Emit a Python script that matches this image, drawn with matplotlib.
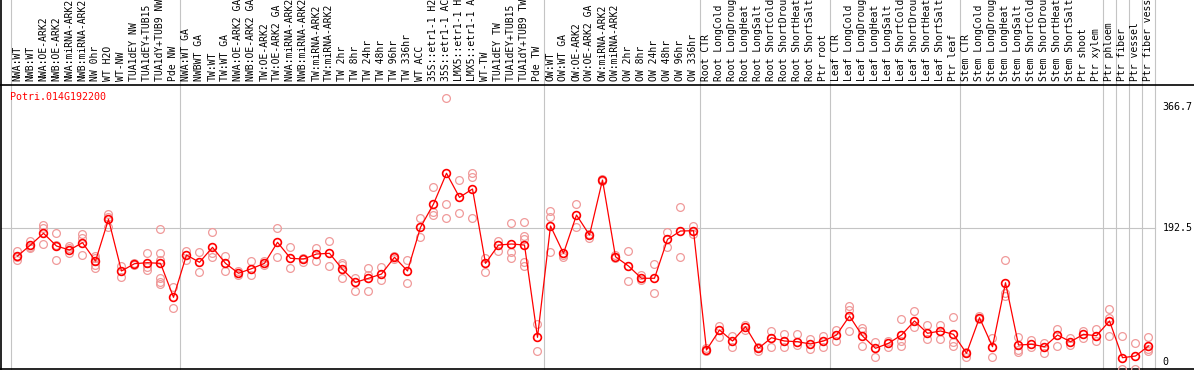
import matplotlib
matplotlib.use("Agg")
import matplotlib.pyplot as plt

gene = "Potri.014G192200"

labels = [
    "NWA:WT", "NWB:WT", "NWA:OE-ARK2", "NWB:OE-ARK2", "NWA:miRNA-ARK2", "NWB:miRNA-ARK2",
    "NW 0hr", "WT H2O", "WT-NW", "TUA1dEY NW", "TUA1dEY+TUB15 NW", "TUA1dY+TUB9 NW", "Pde NW",
    "NWA:WT GA", "NWBWT GA", "TW:WT", "TW:WT GA", "NWA:OE-ARK2 GA", "NWB:OE-ARK2 GA",
    "TW:OE-ARK2", "TW:OE-ARK2 GA", "NWA:miRNA-ARK2 GA", "NWB:miRNA-ARK2 GA", "TW:miRNA-ARK2",
    "TW:miRNA-ARK2 GA", "TW 2hr", "TW 8hr", "TW 24hr", "TW 48hr", "TW 96hr", "TW 336hr",
    "WT ACC", "35S::etr1-1 H2O", "35S::etr1-1 ACC", "LMX5::etr1-1 H2O", "LMX5::etr1-1 ACC",
    "WT-TW", "TUA1dEY TW", "TUA1dEY+TUB15 TW", "TUA1dY+TUB9 TW", "Pde TW",
    "OW:WT", "OW:WT GA", "OW:OE-ARK2", "OW:OE-ARK2 GA", "OW:miRNA-ARK2", "OW:miRNA-ARK2 GA",
    "OW 2hr", "OW 8hr", "OW 24hr", "OW 48hr", "OW 96hr", "OW 336hr",
    "Root CTR", "Root LongCold", "Root LongDrought", "Root LongHeat", "Root LongSalt",
    "Root ShortCold", "Root ShortDrought", "Root ShortHeat", "Root ShortSalt", "Ptr root",
    "Leaf CTR", "Leaf LongCold", "Leaf LongDrought", "Leaf LongHeat", "Leaf LongSalt",
    "Leaf ShortCold", "Leaf ShortDrought", "Leaf ShortHeat", "Leaf ShortSalt", "Ptr leaf",
    "Stem CTR", "Stem LongCold", "Stem LongDrought", "Stem LongHeat", "Stem LongSalt",
    "Stem ShortCold", "Stem ShortDrought", "Stem ShortHeat", "Stem ShortSalt", "Ptr shoot",
    "Ptr xylem", "Ptr phloem", "Ptr fiber", "Ptr vessel", "Ptr fiber vessel",
]

# group boundaries (column index where a new group starts)
group_starts = [0, 13, 41, 53, 63, 73, 84, 85, 86, 87, 88]

means = [
    152.4, 168.2, 185.1, 166.8, 161.1, 171.6, 145.2, 205.2, 130.9, 141.4, 142.8, 141.9, 93.0,
    153.9, 143.4, 164.9, 141.9, 127.6, 134.2, 141.9, 172.1, 149.1, 148.1, 155.3, 156.3, 133.3,
    114.6, 120.4, 126.5, 150.6, 130.9, 193.7, 227.2, 271.4, 236.8, 248.8, 141.9, 168.2, 169.7,
    168.2, 35.5,
    195.6, 156.3, 211.4, 182.6, 261.7, 151.4, 138.0, 120.4, 120.4, 176.4, 188.4, 188.8,
    17.3, 46.0, 30.2, 50.8, 19.7, 34.9, 30.2, 29.2, 25.9, 30.2,
    38.8, 66.1, 37.4, 19.7, 26.9, 38.8, 59.0, 41.3, 44.6, 39.8,
    12.5, 63.7, 22.0, 114.0, 24.4, 25.5, 22.0, 38.8, 29.2, 39.8, 37.8,
    59.0, 6.2, 8.6, 23.0,
]

replicates = [
    [160.0, 151.4, 146.7], [174.4, 165.8, 163.5], [197.0, 192.3, 169.7], [185.1, 146.7, 168.0],
    [166.8, 163.5, 156.3], [184.1, 177.9, 153.9], [152.4, 149.1, 139.5, 134.7],
    [212.8, 208.9, 194.6], [138.0, 121.8], [142.8, 139.5], [157.2, 136.2, 132.3],
    [191.3, 156.3, 146.7, 120.4, 115.5, 111.7], [108.3, 78.1],
    [160.0, 146.7], [157.7, 129.0], [186.5, 156.3, 151.4], [152.4, 131.3], [131.3, 125.1],
    [145.7, 124.7], [145.2, 139.5], [192.3, 151.4], [164.9, 134.7], [149.1, 144.2],
    [164.4, 145.7], [174.0, 138.0], [141.9, 139.5, 120.4], [120.4, 102.1],
    [134.7, 125.1, 102.1], [136.2, 117.9], [152.4, 148.0], [146.7, 113.2], [207.5, 180.2],
    [251.2, 216.1, 211.4], [379.2, 226.8, 206.6], [261.7, 213.8], [272.2, 265.6, 206.6],
    [149.1, 129.9], [174.4, 159.6], [199.5, 158.6, 149.1],
    [200.9, 181.2, 176.4, 144.2, 138.0], [54.6, 16.2],
    [217.1, 208.1, 158.6], [153.9, 150.6], [226.8, 194.6], [184.1, 177.9], [263.2, 260.3],
    [153.9, 149.6], [159.6, 116.5], [125.1, 117.9], [140.9, 98.8], [186.5, 165.8],
    [222.5, 150.6], [196.0, 183.6],
    [19.7, 16.2], [51.8, 36.4], [37.4, 22.0], [53.2, 46.0], [22.0, 16.2], [45.0, 22.0],
    [40.3, 22.0], [40.3, 24.4], [32.6, 18.3], [37.4, 22.0],
    [46.0, 30.6], [80.5, 74.8, 44.6], [48.5, 45.0, 23.0], [28.8, 7.6], [30.6, 22.0],
    [61.8, 30.2, 23.4], [73.3, 49.9], [53.2, 32.6], [53.2, 32.6], [64.3, 29.2, 23.4],
    [14.8, 7.6], [66.6, 61.4], [34.1, 6.8], [146.7, 98.8, 94.9], [36.4, 17.3, 14.8],
    [31.6, 22.0], [26.9, 12.5], [47.0, 23.0], [34.1, 24.4], [45.0, 34.9], [47.5, 30.6],
    [75.8, 62.8, 37.4], [37.4, -10.0], [26.9, -10.0], [36.4, 18.3, 16.2],
]

tick_values = [366.7, 192.5, 0]
tick_labels = ["366.7", "192.5", "0"]

mono = "DejaVu Sans Mono"
grey = "#c4c4c4"
pink = "#f09a9a"

fig = plt.figure(figsize=(11.94, 3.70), dpi=100)
ax = fig.add_axes([0, 0, 1, 1])
ax.set_xlim(-1.346, 90.5)
ax.set_ylim(-11.5, 520.6)
ax.axis("off")

# group separators run through the whole picture
for g in group_starts:
    ax.axvline(g - 0.5, color=grey, lw=0.8, zorder=1)
ax.plot([-1.27, 87.5], [192.5, 192.5], color=grey, lw=0.8, zorder=1)

# frame lines
ax.axhline(398.3, color="black", lw=1.2, zorder=2)
ax.axhline(-10.1, color="black", lw=1.2, zorder=2)
ax.axvline(-1.27, color="black", lw=1.2, zorder=2)

for i, reps in enumerate(replicates):
    ax.plot([i] * len(reps), reps, linestyle="none", marker="o", ms=5.6,
            mfc="none", mec=pink, mew=0.9, zorder=3)

ax.plot(range(len(means)), means, color="red", lw=0.9, marker="o", ms=5.6,
        mfc="none", mec="red", mew=1.2, zorder=4)

for i, lab in enumerate(labels):
    ax.text(i, 404.5, lab, rotation=90, ha="center", va="bottom",
            family=mono, fontsize=7, color="black")

ax.text(-0.6, 381, gene, family=mono, fontsize=7.2, color="red", ha="left", va="center")

for v, t in zip(tick_values, tick_labels):
    ax.text(88.1, v, t, family=mono, fontsize=7.2, color="black", ha="left", va="center")

fig.savefig("out.png", dpi=100)
